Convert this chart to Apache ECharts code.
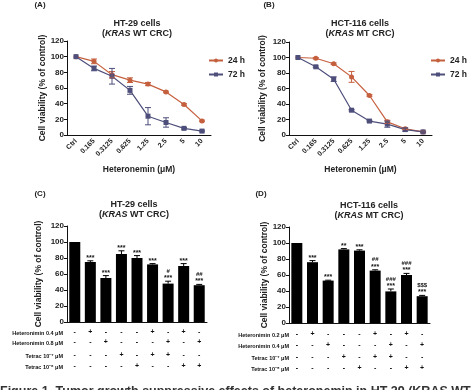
<!DOCTYPE html>
<html><head><meta charset="utf-8">
<script src="https://cdn.jsdelivr.net/npm/echarts@6/dist/echarts.min.js"></script>
<style>html,body{margin:0;padding:0;background:#fff}#c{width:474px;height:390px}</style>
</head><body><div id="c"></div>
<script>
// ---- data ----
const doseCats = ['Ctrl','0.165','0.3125','0.625','1.25','2.5','5','10'];
const a24 = [100, 94, 77, 70, 65, 55, 39, 18];
const a24err = [0, 3, 4, 3, 2, 1, 1, 1];
const a72 = [100, 85, 75, 57, 24, 16, 8.5, 5];
const a72err = [0, 3, 10, 5, 11, 6, 1, 1];
const b24 = [100, 99, 92, 75, 51, 17, 8, 4];
const b24err = [0, 1, 1, 7, 1, 2, 1, 1];
const b72 = [100, 88, 72, 32, 18, 14, 7, 4];
const b72err = [0, 1, 3, 1, 1, 4, 2, 1];
const yTicks = [0, 20, 40, 60, 80, 100, 120];

const barCats = ['1','2','3','4','5','6','7','8','9'];
const cVals = [100, 75, 55, 85, 80, 72, 48, 70, 46];
const cErr = [0, 1.5, 3, 4, 3, 1, 3, 3, 1];
const cStar = ['', '***', '***', '***', '***', '***', '***', '***', '***'];
const cHash = ['', '', '', '', '', '', '#', '', '##'];
const dVals = [100, 76, 53, 92, 90.5, 65.5, 39.5, 60, 33.5];
const dErr = [0, 2, 0.5, 1, 1, 1, 3, 2, 1];
const dStar = ['', '***', '***', '**', '***', '***', '***', '***', '***'];
const dHash = ['', '', '', '', '', '##', '###', '###', '$$$'];

const cRowLabels = ['Heteronimin 0.4 μM', 'Heteronimin 0.8 μM', 'Tetrac 10⁻⁷ μM', 'Tetrac 10⁻⁶ μM'];
const dRowLabels = ['Heteronimin 0.2 μM', 'Heteronimin 0.4 μM', 'Tetrac 10⁻⁷ μM', 'Tetrac 10⁻⁵ μM'];
const signRows = [
  ['-','+','-','-','-','+','-','+','-'],
  ['-','-','+','-','-','-','+','-','+'],
  ['-','-','-','+','-','+','+','-','-'],
  ['-','-','-','-','+','-','-','+','+']
];

// ---- styles ----
const FF = 'Liberation Sans';
const C24 = '#c5603f';
const C72 = '#4e4f7b';
const chart = echarts.init(document.getElementById('c'));

const grids = [
  {left: 67, top: 41, width: 144, height: 94},
  {left: 289, top: 42, width: 143, height: 93},
  {left: 67, top: 226, width: 140, height: 96},
  {left: 289, top: 227, width: 141, height: 96}
];

function yAx(gi, gap) {
  return {
    type: 'value', gridIndex: gi, min: 0, max: 120, interval: 20,
    axisLine: {show: true, lineStyle: {color: '#111', width: 1}},
    axisTick: {show: true, length: 3, lineStyle: {color: '#111'}},
    splitLine: {show: false},
    axisLabel: {fontSize: 8, fontWeight: 'bold', fontFamily: FF, color: '#222', margin: 3},
    name: 'Cell viability (% of control)', nameLocation: 'middle', nameGap: gap,
    nameTextStyle: {fontSize: 8.5, fontWeight: 'bold', fontFamily: FF, color: '#222'}
  };
}
function xDose(gi) {
  return {
    type: 'category', gridIndex: gi, data: doseCats, boundaryGap: true,
    axisLine: {lineStyle: {color: '#111', width: 1}},
    axisTick: {alignWithLabel: true, length: 3, lineStyle: {color: '#111'}},
    axisLabel: {rotate: 45, interval: 0, fontSize: 7, fontWeight: 'bold', fontFamily: FF, color: '#222', margin: 5},
    name: 'Heteronemin (μM)', nameLocation: 'middle', nameGap: 30,
    nameTextStyle: {fontSize: 8.5, fontWeight: 'bold', fontFamily: FF, color: '#222'}
  };
}
function xBar(gi) {
  return {
    type: 'category', gridIndex: gi, data: barCats,
    axisLine: {lineStyle: {color: '#111', width: 1}},
    axisTick: {alignWithLabel: true, length: 3, lineStyle: {color: '#111'}},
    axisLabel: {show: false}
  };
}
function xSign(gi, row, label, offset, gap) {
  return {
    type: 'category', gridIndex: gi, data: signRows[row], position: 'bottom', offset: offset,
    axisLine: {show: false}, axisTick: {show: false},
    axisLabel: {interval: 0, fontSize: 7, fontWeight: 'bold', fontFamily: FF, color: '#111', margin: -4},
    name: label, nameLocation: 'start', nameGap: gap,
    nameTextStyle: {fontSize: 5.5, fontWeight: 'bold', fontFamily: FF, color: '#111', align: 'right', verticalAlign: 'middle'}
  };
}

function errRender(color, cap, stars, hashes, bothSides) {
  return function (params, api) {
    const i = api.value(0), v = api.value(1), e = api.value(2);
    const top = api.coord([i, v + e]);
    const bot = api.coord([i, v - e]);
    const ch = [];
    if (e > 0) {
      ch.push({type: 'line', shape: {x1: top[0], y1: top[1], x2: top[0], y2: bothSides ? bot[1] : api.coord([i, v])[1]}, style: {stroke: color, lineWidth: 1}});
      ch.push({type: 'line', shape: {x1: top[0] - cap, y1: top[1], x2: top[0] + cap, y2: top[1]}, style: {stroke: color, lineWidth: 1}});
      if (bothSides) ch.push({type: 'line', shape: {x1: bot[0] - cap, y1: bot[1], x2: bot[0] + cap, y2: bot[1]}, style: {stroke: color, lineWidth: 1}});
    }
    if (stars && stars[params.dataIndex]) {
      ch.push({type: 'text', style: {text: stars[params.dataIndex], x: top[0], y: top[1] - 3, align: 'center', verticalAlign: 'middle', fontSize: 7, fontWeight: 'bold', fontFamily: FF, fill: '#111'}});
    }
    if (hashes && hashes[params.dataIndex]) {
      ch.push({type: 'text', style: {text: hashes[params.dataIndex], x: top[0], y: top[1] - 10, align: 'center', verticalAlign: 'middle', fontSize: 6, fontWeight: 'bold', fontFamily: FF, fill: '#111'}});
    }
    return {type: 'group', children: ch};
  };
}
function errData(vals, errs) { return vals.map((v, i) => [i, v, errs[i]]); }

function lineSeries(name, vals, color, symbol, xi) {
  return {
    type: 'line', name: name, xAxisIndex: xi, yAxisIndex: xi, data: vals,
    symbol: symbol, symbolSize: 5, color: color,
    lineStyle: {color: color, width: 1.2}, itemStyle: {color: color}, z: 3
  };
}
function errSeries(vals, errs, color, xi, yi, cap, stars, hashes, both) {
  return {
    type: 'custom', xAxisIndex: xi, yAxisIndex: yi, data: errData(vals, errs),
    encode: {x: 0, y: 1}, renderItem: errRender(color, cap, stars, hashes, both), z: 4, silent: true
  };
}

const cOff = [333, 343, 356, 367].map(y => y - 322);
const dOff = [335, 346, 358, 369].map(y => y - 323);

const xAxes = [xDose(0), xDose(1), xBar(2), xBar(3)];
cRowLabels.forEach((l, r) => xAxes.push(xSign(2, r, l, cOff[r], 4)));
dRowLabels.forEach((l, r) => xAxes.push(xSign(3, r, l, dOff[r], 0)));

const legendStyle = {
  orient: 'vertical', itemWidth: 14, itemHeight: 5, itemGap: 5,
  textStyle: {fontSize: 8.5, fontWeight: 'bold', fontFamily: FF, color: '#222'},
  data: ['24 h', '72 h']
};

const txt = (t, x, y, size, extra) => ({type: 'text', x: x, y: y, style: Object.assign({text: t, fontSize: size, fontWeight: 'bold', fontFamily: FF, fill: '#222', align: 'center', verticalAlign: 'middle'}, extra || {})});
const rich = {i: {fontStyle: 'italic', fontWeight: 'bold', fontSize: 9, fontFamily: FF, fill: '#222'}};
const titleExtra = {lineHeight: 10, rich: rich};

chart.setOption({
  animation: false,
  backgroundColor: '#fff',
  grid: grids,
  xAxis: xAxes,
  yAxis: [yAx(0, 20), yAx(1, 22), yAx(2, 24), yAx(3, 20)],
  legend: [
    Object.assign({left: 203, top: 51}, legendStyle),
    Object.assign({left: 425, top: 51}, legendStyle)
  ],
  series: [
    lineSeries('24 h', a24, C24, 'circle', 0),
    lineSeries('72 h', a72, C72, 'rect', 0),
    errSeries(a24, a24err, C24, 0, 0, 3, null, null, true),
    errSeries(a72, a72err, C72, 0, 0, 3, null, null, true),
    lineSeries('24 h', b24, C24, 'circle', 1),
    lineSeries('72 h', b72, C72, 'rect', 1),
    errSeries(b24, b24err, C24, 1, 1, 3, null, null, true),
    errSeries(b72, b72err, C72, 1, 1, 3, null, null, true),
    {type: 'bar', xAxisIndex: 2, yAxisIndex: 2, data: cVals, barWidth: 11, itemStyle: {color: '#000'}},
    errSeries(cVals, cErr, '#000', 2, 2, 3, cStar, cHash, false),
    {type: 'bar', xAxisIndex: 3, yAxisIndex: 3, data: dVals, barWidth: 11, itemStyle: {color: '#000'}},
    errSeries(dVals, dErr, '#000', 3, 3, 3, dStar, dHash, false)
  ],
  graphic: [
    txt('(A)', 40, 5, 8),
    txt('(B)', 269, 5, 8),
    txt('(C)', 40, 194, 8),
    txt('(D)', 261, 194, 8),
    txt('HT-29 cells\n({i|KRAS} WT CRC)', 137, 29, 9, titleExtra),
    txt('HCT-116 cells\n({i|KRAS} MT CRC)', 360, 29, 9, titleExtra),
    txt('HT-29 cells\n({i|KRAS} WT CRC)', 134, 210, 9, titleExtra),
    txt('HCT-116 cells\n({i|KRAS} MT CRC)', 369, 211, 9, titleExtra),
    txt('Figure 1. Tumor growth suppressive effects of heteronemin in HT-29 (KRAS WT CRC)', 0, 385, 12.5, {align: 'left', verticalAlign: 'top', fill: '#333'})
  ]
});
</script></body></html>
